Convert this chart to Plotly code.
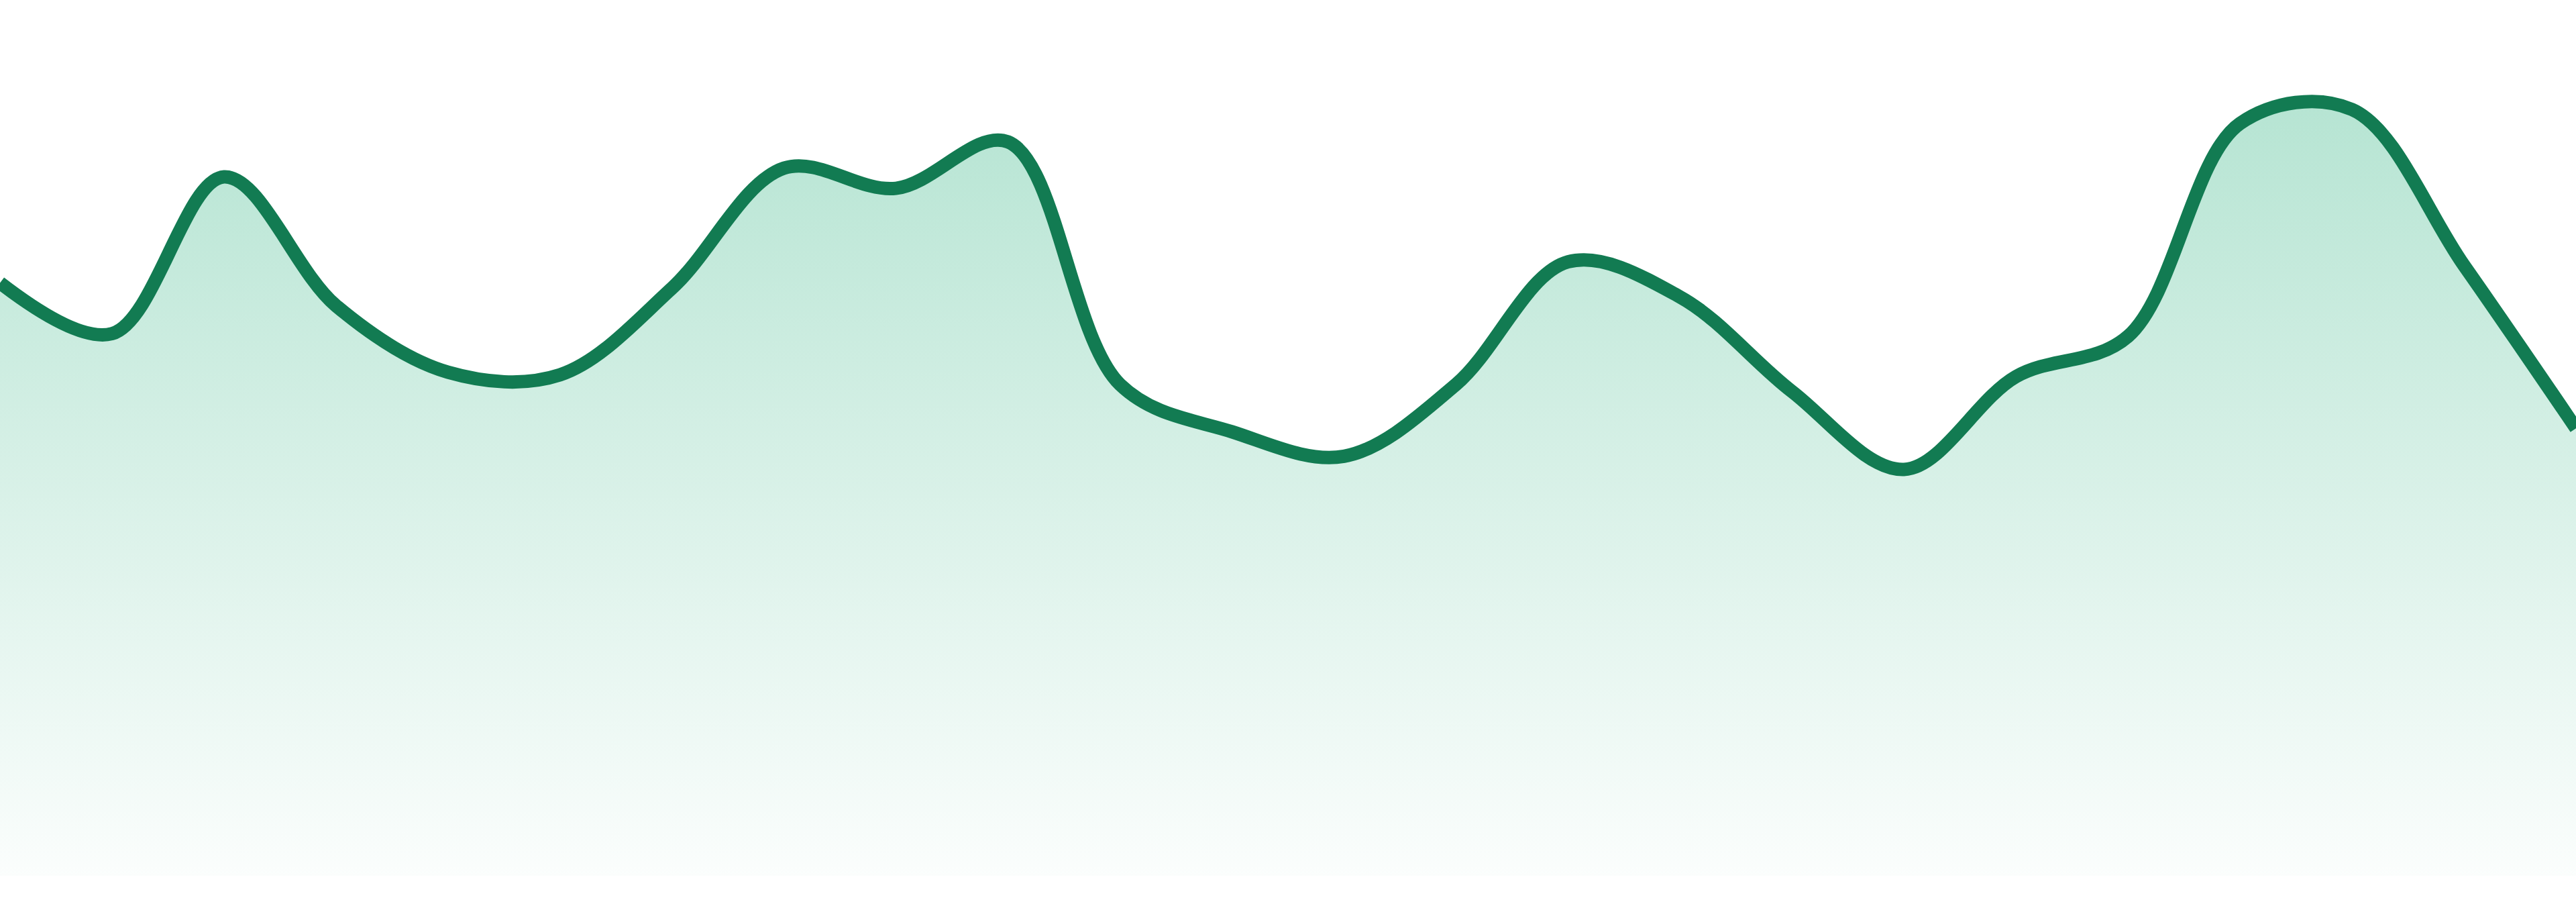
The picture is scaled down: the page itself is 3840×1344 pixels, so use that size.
import plotly.graph_objects as go

# readings, one per step
steps = list(range(24))
values = [67.7, 61.9, 79.8, 65.1, 57.5, 57.2, 67.1, 80.8, 78.5, 83.8, 56.1, 50.7,
          47.9, 56.1, 70.1, 66.1, 55.3, 46.4, 57.0, 61.6, 85.9, 87.5, 69.7, 51.1]

line_color = "#127b52"

fig = go.Figure()
fig.add_trace(go.Scatter(
    x=steps, y=values, mode="lines", line_shape="spline",
    line=dict(color=line_color, width=20, smoothing=1.0),
    fill="tozeroy",
    fillgradient=dict(
        type="vertical",
        colorscale=[[0, "rgba(52,181,132,0.02)"], [1, "rgba(52,181,132,0.36)"]],
    ),
    hoverinfo="skip", showlegend=False,
))

fig.update_layout(
    width=3840, height=1344,
    margin=dict(l=0, r=0, t=0, b=39),
    paper_bgcolor="white", plot_bgcolor="white",
    xaxis=dict(visible=False, range=[0, 23], fixedrange=True),
    yaxis=dict(visible=False, range=[0, 100], fixedrange=True),
)

# page body has a default margin, drop it so the figure sits flush in the window
fig.write_html("out.html", config={"displayModeBar": False},
               post_script="document.body.style.margin='0';document.body.style.overflow='hidden';")
